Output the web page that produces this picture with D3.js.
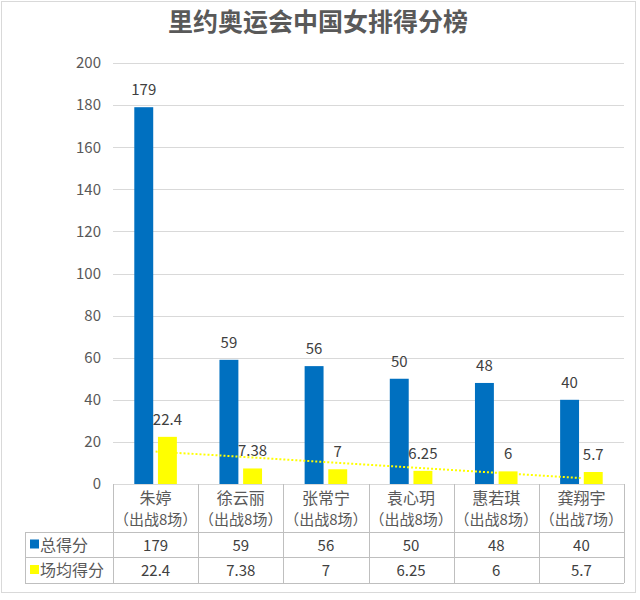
<html>
<head>
<meta charset="utf-8">
<script src="https://d3js.org/d3.v7.min.js"></script>
<style>
  body {margin: 0; background: #fff;}
  text {font-family: "Noto Sans CJK SC", "Liberation Sans", sans-serif;}
</style>
</head>
<body>
<svg id="chart" width="640" height="600"></svg>
<script>
// data
var players = ["朱婷", "徐云丽", "张常宁", "袁心玥", "惠若琪", "龚翔宇"];
var games = ["（出战8场）", "（出战8场）", "（出战8场）", "（出战8场）", "（出战8场）", "（出战7场）"];
var totalPts = [179, 59, 56, 50, 48, 40];
var avgPts = [22.4, 7.38, 7, 6.25, 6, 5.7];
var totalLabels = ["179", "59", "56", "50", "48", "40"];
var avgLabels = ["22.4", "7.38", "7", "6.25", "6", "5.7"];
var seriesNames = ["总得分", "场均得分"];
var yTicks = [0, 20, 40, 60, 80, 100, 120, 140, 160, 180, 200];

var title = "里约奥运会中国女排得分榜";
var colors = ["#0070C0", "#FFFF00"];

var plotL = 113, plotR = 624, plotT = 63, plotB = 484;
var tableLeft = 25, rowLines = [532, 557, 583];

var svg = d3.select("#chart");

// outer frame
svg.append("rect")
  .attr("x", 1.5).attr("y", 1.5).attr("width", 634).attr("height", 591)
  .attr("fill", "#fff").attr("stroke", "#D9D9D9");

svg.append("text")
  .attr("x", 318).attr("y", 31)
  .attr("text-anchor", "middle")
  .attr("font-size", 25).attr("font-weight", "bold")
  .attr("fill", "#595959")
  .text(title);

var x0 = d3.scaleBand().domain(players).range([plotL, plotR])
  .paddingInner(0.5).paddingOuter(0.25);
var x1 = d3.scaleBand().domain([0, 1]).range([0, x0.bandwidth()]).paddingInner(0.2);
var y = d3.scaleLinear().domain([0, 200]).range([plotB, plotT]);
var xCat = d3.scaleBand().domain(players).range([plotL, plotR]);

// gridlines
svg.append("g").selectAll("line").data(yTicks).enter().append("line")
  .attr("x1", plotL).attr("x2", plotR)
  .attr("y1", function(d) {return Math.round(y(d)) + 0.5;})
  .attr("y2", function(d) {return Math.round(y(d)) + 0.5;})
  .attr("stroke", "#D9D9D9");

var yAxis = d3.axisLeft(y).tickValues(yTicks).tickSize(0).tickPadding(12);
var ga = svg.append("g").attr("transform", "translate(" + plotL + ",0)").call(yAxis);
ga.select(".domain").remove();
ga.selectAll("text").attr("font-size", 15).attr("fill", "#595959")
  .attr("font-family", "'Liberation Sans', sans-serif");

var series = [totalPts, avgPts];
var labels = [totalLabels, avgLabels];

series.forEach(function(vals, s) {
  svg.append("g").selectAll("rect").data(vals).enter().append("rect")
    .attr("x", function(d, i) {return x0(players[i]) + x1(s);})
    .attr("width", x1.bandwidth())
    .attr("y", function(d) {return y(d);})
    .attr("height", function(d) {return plotB - y(d);})
    .attr("fill", colors[s]);
});

// linear trendline of 场均得分
var n = avgPts.length;
var mx = d3.mean(avgPts, function(d, i) {return i;});
var my = d3.mean(avgPts);
var slope = d3.sum(avgPts, function(d, i) {return (i - mx) * (d - my);}) /
            d3.sum(avgPts, function(d, i) {return (i - mx) * (i - mx);});
svg.append("line")
  .attr("x1", xCat(players[0]) + xCat.bandwidth() / 2)
  .attr("x2", xCat(players[n - 1]) + xCat.bandwidth() / 2)
  .attr("y1", y(my + slope * (0 - mx)))
  .attr("y2", y(my + slope * (n - 1 - mx)))
  .attr("stroke", "#FFFF00").attr("stroke-width", 2)
  .attr("stroke-dasharray", "2,2");

labels.forEach(function(labs, s) {
  svg.append("g").selectAll("text").data(labs).enter().append("text")
    .attr("x", function(d, i) {return x0(players[i]) + x1(s) + x1.bandwidth() / 2;})
    .attr("y", function(d, i) {return y(series[s][i]) - 12;})
    .attr("text-anchor", "middle")
    .attr("font-size", 15).attr("fill", "#404040")
    .attr("font-family", "'Liberation Sans', sans-serif")
    .text(function(d) {return d;});
});

// data table
var tbl = svg.append("g").attr("stroke", "#BFBFBF").attr("shape-rendering", "crispEdges");
tbl.append("line").attr("x1", plotL).attr("x2", plotR).attr("y1", plotB + 0.5).attr("y2", plotB + 0.5)
  .attr("stroke", "#D9D9D9");
rowLines.forEach(function(ry) {
  tbl.append("line").attr("x1", tableLeft).attr("x2", plotR).attr("y1", ry + 0.5).attr("y2", ry + 0.5);
});
var cols = players.map(function(p) {return xCat(p);}).concat([plotR]);
cols.forEach(function(cx) {
  tbl.append("line").attr("x1", cx + 0.5).attr("x2", cx + 0.5).attr("y1", plotB).attr("y2", rowLines[2]);
});
tbl.append("line").attr("x1", tableLeft + 0.5).attr("x2", tableLeft + 0.5)
  .attr("y1", rowLines[0]).attr("y2", rowLines[2]);

var hdr = svg.append("g").attr("text-anchor", "middle").attr("font-size", 16).attr("fill", "#595959");
players.forEach(function(p, i) {
  var cx = xCat(p) + xCat.bandwidth() / 2;
  hdr.append("text").attr("x", cx).attr("y", 504).text(p);
  hdr.append("text").attr("x", cx).attr("y", 525).attr("font-size", 15).text(games[i]);
});

labels.forEach(function(labs, s) {
  var ry = (rowLines[s] + rowLines[s + 1]) / 2;
  svg.append("rect").attr("x", 30).attr("y", ry - 5).attr("width", 9).attr("height", 9)
    .attr("fill", colors[s]);
  svg.append("text").attr("x", 40).attr("y", ry + 6)
    .attr("font-size", 16).attr("fill", "#595959").text(seriesNames[s]);
  svg.append("g").selectAll("text").data(labs).enter().append("text")
    .attr("x", function(d, i) {return xCat(players[i]) + xCat.bandwidth() / 2;})
    .attr("y", ry + 6)
    .attr("text-anchor", "middle")
    .attr("font-size", 15).attr("fill", "#404040")
    .attr("font-family", "'Liberation Sans', sans-serif")
    .text(function(d) {return d;});
});
</script>
</body>
</html>
